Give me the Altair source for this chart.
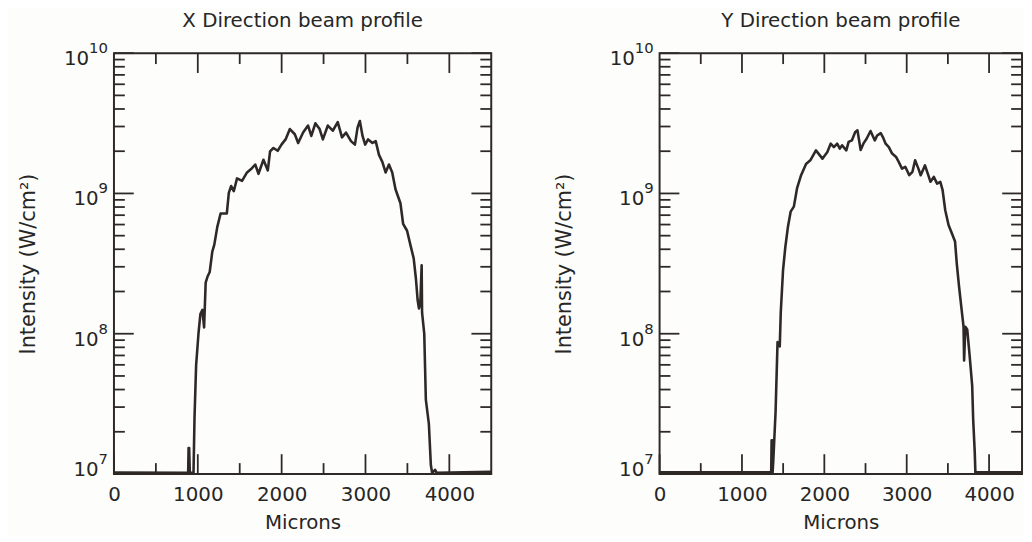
import altair as alt
import numpy as np
import pandas as pd

# ---------------- data ----------------
x_dir_microns = [0, 860, 885, 890, 897, 905, 949, 961, 980, 1008, 1031, 1055, 1075, 1094, 1118,
                 1142, 1173, 1197, 1232, 1272, 1346, 1370, 1398, 1429, 1468, 1528, 1587, 1646,
                 1685, 1724, 1783, 1835, 1862, 1902, 1953, 2000, 2047, 2098, 2157, 2197, 2256,
                 2315, 2354, 2402, 2453, 2492, 2551, 2610, 2669, 2720, 2768, 2827, 2874, 2906,
                 2933, 2965, 2996, 3031, 3083, 3122, 3161, 3201, 3240, 3280, 3319, 3358, 3417,
                 3449, 3496, 3535, 3575, 3602, 3622, 3638, 3654, 3670, 3675, 3701, 3720, 3756,
                 3780, 3795, 3830, 3850, 4500]
x_dir_log_intensity = [7.01, 7.008, 7.008, 7.185, 7.185, 7.008, 7.01, 7.406, 7.775, 8.0, 8.14,
                       8.17, 8.045, 8.365, 8.41, 8.44, 8.586, 8.635, 8.76, 8.857, 8.857, 9.004,
                       9.053, 9.016, 9.107, 9.09, 9.15, 9.18, 9.206, 9.14, 9.24, 9.164, 9.30,
                       9.324, 9.304, 9.35, 9.385, 9.459, 9.422, 9.36, 9.434, 9.484, 9.41, 9.50,
                       9.459, 9.385, 9.484, 9.447, 9.508, 9.40, 9.434, 9.373, 9.348, 9.471,
                       9.516, 9.41, 9.348, 9.385, 9.36, 9.373, 9.275, 9.225, 9.15, 9.206, 9.15,
                       9.03, 8.93, 8.783, 8.734, 8.635, 8.537, 8.39, 8.24, 8.18, 8.217, 8.488,
                       8.15, 8.0, 7.53, 7.357, 7.062, 7.008, 7.03, 7.008, 7.015]

y_dir_microns = [0, 1355, 1360, 1368, 1372, 1380, 1408, 1432, 1459, 1471, 1499, 1527, 1559, 1591,
                 1630, 1670, 1718, 1778, 1830, 1898, 1977, 2037, 2077, 2116, 2156, 2188, 2216,
                 2267, 2295, 2334, 2375, 2402, 2441, 2474, 2513, 2561, 2613, 2641, 2685, 2712,
                 2744, 2783, 2823, 2871, 2903, 2943, 2983, 3031, 3070, 3102, 3142, 3170, 3222,
                 3262, 3289, 3329, 3369, 3408, 3436, 3468, 3508, 3548, 3587, 3608, 3635, 3667,
                 3690, 3697, 3712, 3735, 3760, 3795, 3807, 3826, 3834, 3850, 4500]
y_dir_log_intensity = [7.012, 7.012, 7.24, 7.24, 7.012, 7.09, 7.44, 7.94, 7.91, 8.15, 8.456,
                       8.62, 8.765, 8.87, 8.906, 9.04, 9.13, 9.21, 9.236, 9.307, 9.248, 9.296,
                       9.355, 9.33, 9.355, 9.32, 9.343, 9.307, 9.367, 9.378, 9.438, 9.45, 9.31,
                       9.355, 9.39, 9.445, 9.378, 9.413, 9.43, 9.40, 9.355, 9.33, 9.284, 9.26,
                       9.225, 9.177, 9.19, 9.13, 9.154, 9.236, 9.177, 9.13, 9.20, 9.13, 9.083,
                       9.118, 9.07, 9.083, 9.023, 8.88, 8.775, 8.716, 8.657, 8.50, 8.34, 8.17,
                       8.05, 7.81, 8.05, 8.03, 7.87, 7.63, 7.39, 7.156, 7.01, 7.012, 7.012]

x_tick_labels = [0, 1000, 2000, 3000, 4000]
x_minor_ticks = [500, 1500, 2500, 3500]
x_top_major = [1000, 2000, 3000, 4000]
y_tick_values = [1e7, 1e8, 1e9, 1e10]
y_label_base = ["10", "10", "10", "10"]
y_label_exp = ["7", "8", "9", "10"]
y_minor_ticks = [m * 10 ** e for e in (7, 8, 9) for m in range(2, 10)]

titles = ["X Direction beam profile", "Y Direction beam profile"]

# ---------------- style ----------------
INK = "#2e2926"
TXT = "#262626"
FONT = "DejaVu Sans"
H = 425
MAJ = 20
MIN = 11
LABEL_SHIFT = [-10, 0, 0, 0]   # vertical nudge of each decade label (px)


def panel(xs, logs, title, width, xmax, ytitle_pad):
    df = pd.DataFrame({"x": xs, "I": np.power(10.0, np.array(logs)), "i": range(len(xs))})
    xscale = alt.Scale(domain=[0, xmax], nice=False, zero=False)
    yscale = alt.Scale(type="log", domain=[1e7, 1e10], nice=False)
    xaxis = alt.Axis(values=x_tick_labels, format="d", title="Microns", ticks=False,
                     domain=False, grid=False, labelFlush=False, labelPadding=11,
                     titlePadding=8, labelFontSize=20, titleFontSize=20)
    yaxis = alt.Axis(values=y_tick_values, labels=False, title="Intensity (W/cm\u00b2)",
                     ticks=False, domain=False, grid=False, titlePadding=ytitle_pad,
                     titleFontSize=21)

    line = alt.Chart(df).mark_line(color=INK, strokeWidth=2.6, clip=True, strokeJoin="round").encode(
        x=alt.X("x:Q", scale=xscale, axis=xaxis, title="Microns"),
        y=alt.Y("I:Q", scale=yscale, axis=yaxis, title="Intensity (W/cm\u00b2)"),
        order="i:Q",
    )

    def xr(vals, top, length):
        d = pd.DataFrame({"v": vals})
        return alt.Chart(d).mark_rule(color=INK, strokeWidth=1.8).encode(
            x=alt.X("v:Q", scale=xscale, axis=xaxis, title="Microns"),
            y=alt.value(0 if top else H),
            y2=alt.value(length if top else H - length),
        )

    def yr(vals, right, length):
        d = pd.DataFrame({"v": vals})
        return alt.Chart(d).mark_rule(color=INK, strokeWidth=1.8).encode(
            y=alt.Y("v:Q", scale=yscale, axis=yaxis, title="Intensity (W/cm\u00b2)"),
            x=alt.value(width if right else 0),
            x2=alt.value(width - length if right else length),
        )

    layers = [
        line,
        xr(x_tick_labels, False, MAJ), xr(x_minor_ticks, False, MIN),
        xr(x_top_major, True, MAJ), xr(x_minor_ticks, True, MIN),
        yr(y_tick_values, False, MAJ), yr(y_minor_ticks, False, MIN),
        yr(y_tick_values, True, MAJ), yr(y_minor_ticks, True, MIN),
    ]
    # decade labels: "10" with a raised exponent
    for v, base, ex, sh in zip(y_tick_values, y_label_base, y_label_exp, LABEL_SHIFT):
        d = pd.DataFrame({"v": [v], "b": [base], "e": [ex]})
        layers.append(alt.Chart(d).mark_text(
            align="right", baseline="alphabetic", fontSize=20, font=FONT, color=TXT, dy=12 + sh
        ).encode(y=alt.Y("v:Q", scale=yscale, axis=yaxis, title="Intensity (W/cm\u00b2)"),
                 x=alt.value(-(6 + 9.5 * len(ex))), text="b:N"))
        layers.append(alt.Chart(d).mark_text(
            align="right", baseline="alphabetic", fontSize=15, font=FONT, color=TXT, dy=sh
        ).encode(y=alt.Y("v:Q", scale=yscale, axis=yaxis, title="Intensity (W/cm\u00b2)"),
                 x=alt.value(-6), text="e:N"))

    return alt.layer(*layers).properties(
        width=width, height=H,
        title=alt.TitleParams(title, fontSize=20, font=FONT, fontWeight="normal", color=TXT,
                              offset=10, anchor="middle"),
    )


left = panel(x_dir_microns, x_dir_log_intensity, titles[0], 381, 4500, 76)
right = panel(y_dir_microns, y_dir_log_intensity, titles[1], 366, 4400, 86)

chart = alt.hconcat(left, right, spacing=60).properties(
    padding={"left": 9, "top": 0, "right": 0, "bottom": 0},
    background="#fdfdfb",
).configure_view(stroke=INK, strokeWidth=2).configure_axis(
    labelFont=FONT, titleFont=FONT, labelColor=TXT, titleColor=TXT, titleFontWeight="normal",
)

chart.save("out.html", embed_options={"renderer": "svg", "actions": False})
